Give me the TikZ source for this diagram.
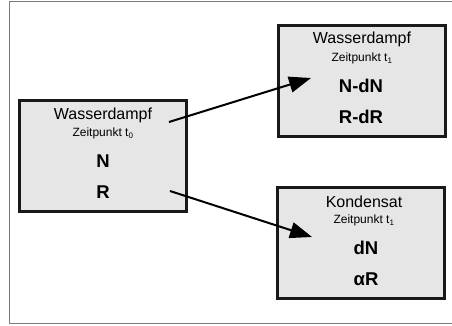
\documentclass[tikz,border=0pt]{standalone}
\usepackage{fontspec}
\setmainfont{Liberation Sans}
\usetikzlibrary{arrows.meta}

\definecolor{boxgray}{HTML}{E6E6E6}
\definecolor{framegray}{HTML}{7A7A7A}

\tikzset{
  kasten/.style={draw=black!90, fill=boxgray, line width=2.4pt,
    minimum width=167pt, minimum height=111pt, inner sep=0pt},
  titel/.style={inner sep=0pt, font=\fontsize{16}{19}\selectfont},
  zeit/.style={inner sep=0pt, font=\fontsize{12}{14}\selectfont},
  groesse/.style={inner sep=0pt, font=\fontsize{18.5}{22}\selectfont\bfseries},
  pfeil/.style={line width=2pt, -{Triangle[length=22pt,width=16pt]}}
}

\begin{document}
\begin{tikzpicture}[x=1pt, y=-1pt]

  %% ---- Rahmen ----
  \draw[framegray, line width=1.2pt] (452,1.5) -- (9.5,1.5) -- (9.5,323.5) -- (452,323.5);

  %% ---- Kaesten ----
  \node[kasten] (dampfA) at (103,156) {};
  \node[kasten] (dampfB) at (362,81) {};
  \node[kasten] (kond)   at (361,243) {};

  %% ---- Texte links ----
  \node[titel]   (dampfAtitel) at (103,115) {Wasserdampf};
  \node[zeit]    (dampfAzeit)  at (103,133.5) {Zeitpunkt t\textsubscript{0}};
  \node[groesse] (dampfAN)     at (103,161) {N};
  \node[groesse] (dampfAR)     at (103,192) {R};

  %% ---- Texte rechts oben ----
  \node[titel]   (dampfBtitel) at (362,39.5) {Wasserdampf};
  \node[zeit]    (dampfBzeit)  at (362,58.5) {Zeitpunkt t\textsubscript{1}};
  \node[groesse] (dampfBN)     at (361,86) {N-dN};
  \node[groesse] (dampfBR)     at (361,117) {R-dR};

  %% ---- Texte rechts unten ----
  \node[titel]   (kondtitel) at (364,201.5) {Kondensat};
  \node[zeit]    (kondzeit)  at (364,220.5) {Zeitpunkt t\textsubscript{1}};
  \node[groesse] (kondN)     at (366,248) {dN};
  \node[groesse] (kondR)     at (366,279) {αR};

  %% ---- Pfeile ----
  \coordinate (startoben)  at (169,122);
  \coordinate (zieloben)   at (311,78);
  \coordinate (startunten) at (170,191);
  \coordinate (zielunten)  at (312,237);
  \draw[pfeil] (startoben) -- (zieloben);
  \draw[pfeil] (startunten) -- (zielunten);

  \pgfresetboundingbox
  \path[use as bounding box] (0,0) rectangle (452,326);
\end{tikzpicture}
\end{document}
